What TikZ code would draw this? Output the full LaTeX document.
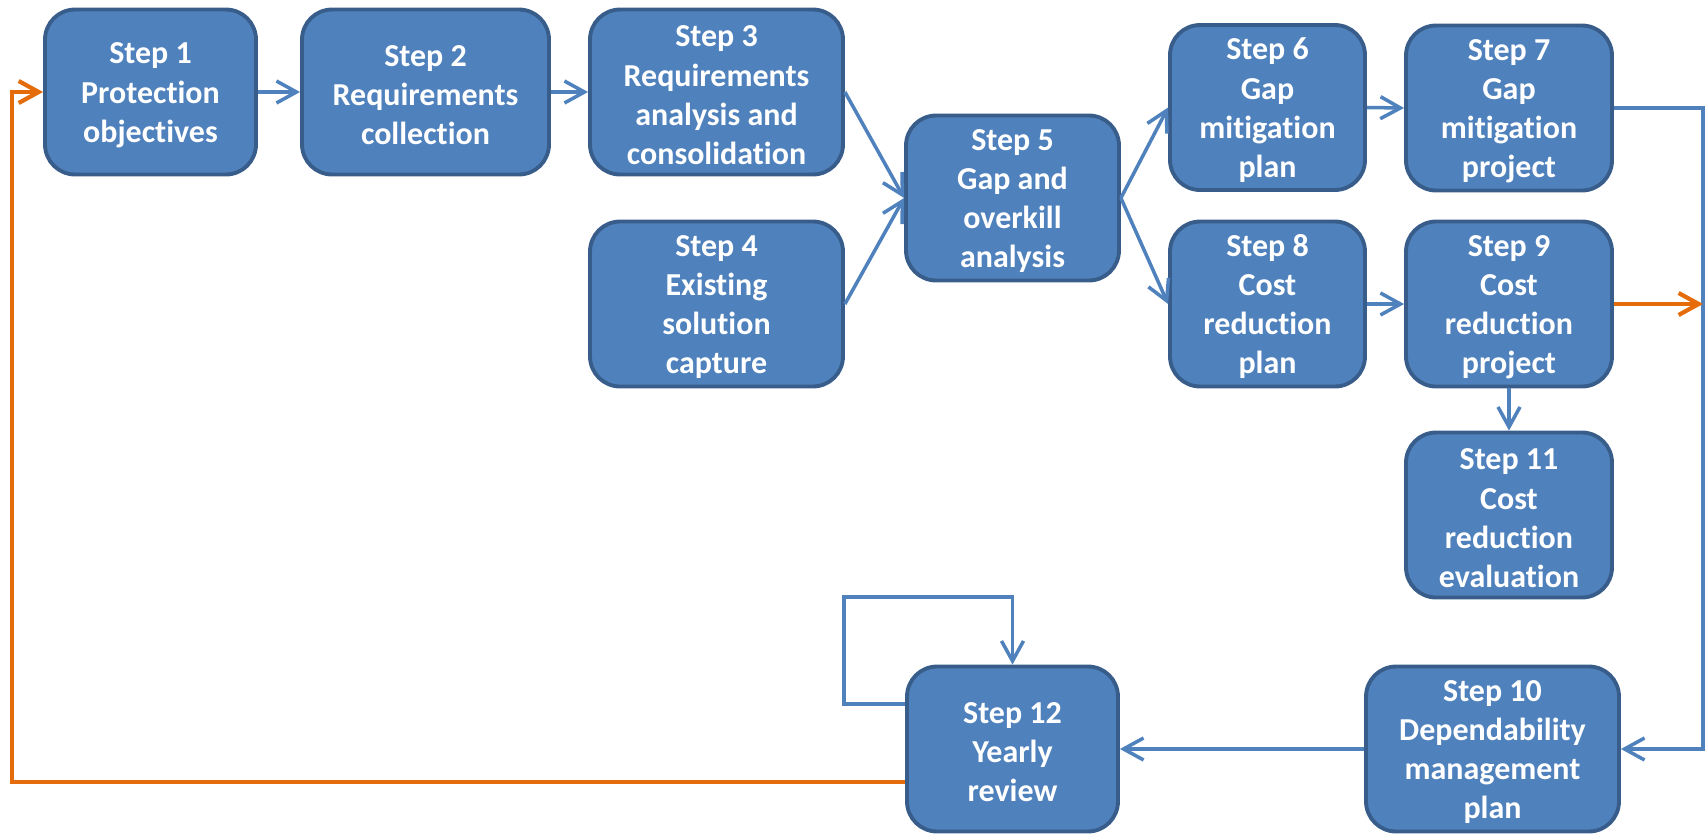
\documentclass[tikz,border=0pt]{standalone}
\usepackage{fontspec}
\setmainfont{Carlito}[Ligatures=NoCommon]
\usepackage{tikz}
\usetikzlibrary{arrows.meta,positioning,calc}
\definecolor{stepfill}{HTML}{4F81BD}
\definecolor{stepedge}{HTML}{385D8A}
\definecolor{linkblue}{HTML}{4F81BD}
\definecolor{backorange}{HTML}{E46C0A}
\tikzset{
  stepbox/.style = {draw=stepedge,fill=stepfill,line width=2.2pt,
                    rounded corners=0.6cm,minimum height=3.3cm,align=center,
                    text=white,inner sep=2pt,
                    font=\bfseries\fontsize{18.2}{22.3}\selectfont},
  link/.style    = {-{Straight Barb[length=4mm,width=4.4mm]},line width=2pt,
                    draw=linkblue},
  back/.style    = {-{Straight Barb[length=4mm,width=4.4mm]},line width=2.4pt,
                    draw=backorange},
}
\begin{document}
\begin{tikzpicture}[x=0.02cm,y=-0.02cm]
  \useasboundingbox (0,0) rectangle (1705,836);
  \foreach \n/\x/\y/\w/\t in {
      s1/150.5/92/4.22/{Step 1\\Protection\\objectives},
      s2/425.5/92/4.94/{Step 2\\Requirements\\collection},
      s3/716.5/92/5.06/{Step 3\\Requirements\\analysis and\\consolidation},
      s4/716.5/304/5.06/{Step 4\\Existing\\solution\\capture},
      s5/1012.5/198/4.26/{Step 5\\Gap and\\overkill\\analysis},
      s6/1267.5/107.5/3.9/{Step 6\\Gap\\mitigation\\plan},
      s7/1509/108/4.12/{Step 7\\Gap\\mitigation\\project},
      s8/1267.5/304/3.9/{Step 8\\Cost\\reduction\\plan},
      s9/1509/304/4.12/{Step 9\\Cost\\reduction\\project},
      s11/1509/515/4.12/{Step 11\\Cost\\reduction\\evaluation},
      s10/1492.5/749/5.06/{Step 10\\Dependability\\management\\plan},
      s12/1012.5/749/4.22/{Step 12\\Yearly\\review}}{
    \node[stepbox,minimum width=\w cm] (\n) at (\x,\y) {\strut\t};
  }
  \coordinate (rail) at (1703,0);
  \coordinate (retx) at (12,0);
  \coordinate (loopnw) at (844,597);

  % Forward flow
  \draw[link] (s1.east) -- (s2.west);
  \draw[link] (s2.east) -- (s3.west);
  \draw[link] (s3.east) -- (s5.west);
  \draw[link] (s4.east) -- (s5.west);
  \draw[link] (s5.east) -- (s6.west);
  \draw[link] (s5.east) -- (s8.west);
  \draw[link] (s6.east) -- (s7.west);
  \draw[link] (s8.east) -- (s9.west);
  \draw[link] (s9.south) -- (s11.north);

  % Right rail down to step 10, then back to step 12
  \draw[link] (s7.east) -| (rail |- s10.east) -- (s10.east);
  \draw[back] (s9.east) -- (s9.east -| rail);
  \draw[link] (s10.west) -- (s12.east);

  % Yearly loop and return to step 1
  \draw[link] ([yshift=0.9cm]s12.west) -| (loopnw) -| (s12.north);
  \draw[back] ([yshift=-0.66cm]s12.west) -| (retx |- s1.west) -- (s1.west);
\end{tikzpicture}
\end{document}
